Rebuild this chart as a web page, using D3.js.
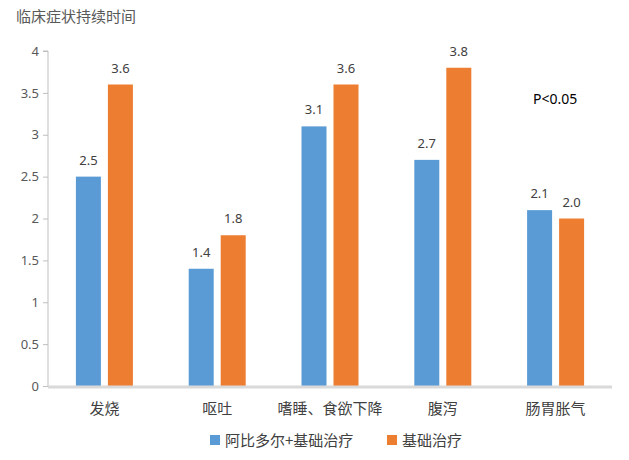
<!DOCTYPE html>
<html><head><meta charset="utf-8">
<script src="https://cdn.jsdelivr.net/npm/d3@7"></script>
<style>body{margin:0;background:#fff}svg{display:block}text{font-family:"Microsoft YaHei","Noto Sans CJK SC",sans-serif}</style>
</head><body><svg id="c" width="629" height="460"></svg>
<script>
const categories = ["发烧","呕吐","嗜睡、食欲下降","腹泻","肠胃胀气"];
const seriesNames = ["阿比多尔+基础治疗","基础治疗"];
const seriesA = [2.5,1.4,3.1,2.7,2.1];
const seriesB = [3.6,1.8,3.6,3.8,2.0];
const seriesLabelsA = ["2.5","1.4","3.1","2.7","2.1"];
const seriesLabelsB = ["3.6","1.8","3.6","3.8","2.0"];
const yTicks = [0,0.5,1,1.5,2,2.5,3,3.5,4];
const colors = ["#5b9bd5","#ed7d31"];

(function(){
const svg = d3.select("#c");
const mL = 48, mR = 612, mT = 51, mB = 386;
const x = d3.scaleBand().domain(categories).range([mL,mR]);
const y = d3.scaleLinear().domain([0,4]).range([mB,mT]);
const barW = 25, gap = 7;

svg.append("text").attr("x",16).attr("y",22).attr("font-size",15).attr("fill","#595959").text("临床症状持续时间");

const ya = svg.append("g").attr("transform",`translate(${mL},0)`)
  .call(d3.axisLeft(y).tickValues(yTicks).tickSize(5).tickFormat(d=>String(d)));
ya.select(".domain").attr("stroke","#bfbfbf").attr("d",`M-5,${mT}H0V${mB}`);
ya.selectAll(".tick line").attr("stroke","#bfbfbf");
ya.selectAll(".tick text").attr("fill","#595959").attr("font-size",13).attr("x",-9)
  .style("font-family","'Noto Sans',sans-serif");

const data = categories.map((c,i)=>({c, a:seriesA[i], b:seriesB[i], la:seriesLabelsA[i], lb:seriesLabelsB[i]}));
const g = svg.append("g");
data.forEach(d=>{
  const cx = x(d.c)+x.bandwidth()/2;
  const xa = cx - gap/2 - barW, xb = cx + gap/2;
  g.append("rect").attr("x",xa).attr("width",barW).attr("y",y(d.a)).attr("height",mB-y(d.a)).attr("fill",colors[0]);
  g.append("rect").attr("x",xb).attr("width",barW).attr("y",y(d.b)).attr("height",mB-y(d.b)).attr("fill",colors[1]);
  g.append("text").attr("x",xa+barW/2).attr("y",y(d.a)-12).attr("text-anchor","middle").attr("font-size",13).attr("fill","#404040").style("font-family","'Noto Sans',sans-serif").text(d.la);
  g.append("text").attr("x",xb+barW/2).attr("y",y(d.b)-12).attr("text-anchor","middle").attr("font-size",13).attr("fill","#404040").style("font-family","'Noto Sans',sans-serif").text(d.lb);
});

svg.append("line").attr("x1",mL).attr("x2",mR).attr("y1",mB+1).attr("y2",mB+1).attr("stroke","#d9d9d9").attr("stroke-width",3);

svg.append("g").selectAll("text").data(categories).join("text")
  .attr("x",d=>x(d)+x.bandwidth()/2).attr("y",414).attr("text-anchor","middle")
  .attr("font-size",15).attr("fill","#404040").text(d=>d);

svg.append("text").attr("x",533).attr("y",104).attr("font-size",14).attr("fill","#000").style("font-family","'Noto Sans',sans-serif").text("P<0.05");

const leg = [{n:seriesNames[0],c:colors[0],x:210},{n:seriesNames[1],c:colors[1],x:387}];
leg.forEach(l=>{
  svg.append("rect").attr("x",l.x).attr("y",435).attr("width",10).attr("height",10).attr("fill",l.c);
  svg.append("text").attr("x",l.x+15).attr("y",446).attr("font-size",15).attr("fill","#404040").text(l.n);
});
})();
</script></body></html>
